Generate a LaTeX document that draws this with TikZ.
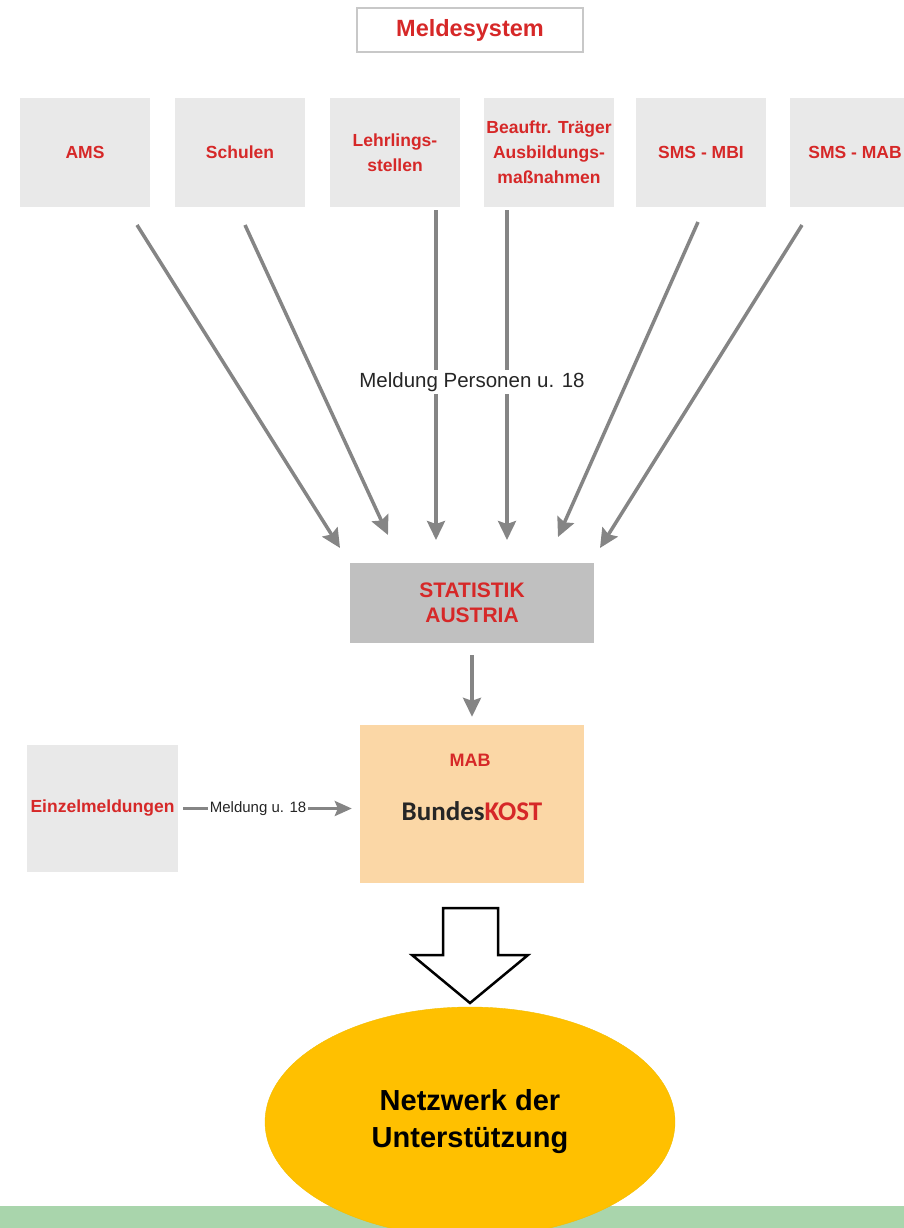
\documentclass[tikz,border=0pt]{standalone}
\usepackage{fontspec}
\setmainfont{Liberation Sans}
\newfontfamily\calibrifont{Carlito}
\usetikzlibrary{arrows.meta,shapes.geometric}

\definecolor{meldrot}{RGB}{214,40,40}
\definecolor{boxgrau}{RGB}{233,233,233}
\definecolor{statgrau}{RGB}{192,192,192}
\definecolor{randgrau}{RGB}{200,200,200}
\definecolor{pfeilgrau}{RGB}{133,133,133}
\definecolor{mabfarbe}{RGB}{251,215,166}
\definecolor{kostschwarz}{RGB}{38,38,38}
\definecolor{bandgruen}{RGB}{169,213,172}
\definecolor{netzgelb}{RGB}{255,192,0}
\definecolor{netzrand}{RGB}{242,190,0}

\begin{document}
\begin{tikzpicture}[x=1pt,y=-1pt,
		quelle/.style={rectangle,fill=boxgrau,minimum width=#1,minimum height=109pt,inner sep=2pt,text=meldrot,align=center,font=\fontsize{17.5}{25}\selectfont\bfseries},
		quelle/.default=130pt,
		pfeil/.style={draw=pfeilgrau,line width=#1,-{Stealth[length=19pt,width=18pt,inset=3pt]}},
		pfeil/.default=3.5pt,
		beschriftung/.style={fill=white,inner sep=2pt,text=black!85,font=\fontsize{#1}{#1}\selectfont}]
		
		\useasboundingbox (0,0) rectangle (904,1228);
		
		%meldesystem
		\node[draw=randgrau,line width=1.5pt,minimum width=226pt,minimum height=44pt,text=meldrot,font=\fontsize{23.5}{28}\selectfont\bfseries] (melde) at (470,30) {Meldesystem};
		
		%quellen
		\foreach \name/\x/\text in {ams/85/AMS, schulen/240/Schulen, lehr/395/{Lehrlings-\\stellen}, beauftr/549/{Beauftr. Träger\\Ausbildungs-\\maßnahmen}, mbi/701/SMS - MBI, smsmab/855/SMS - MAB}
		\node[quelle] (\name) at (\x,152.5) {\text};
		
		%statistik
		\node[fill=statgrau,minimum width=244pt,minimum height=80pt,text=meldrot,align=center,font=\fontsize{21}{25}\selectfont\bfseries] (statistik) at (472,603) {STATISTIK\\AUSTRIA};
		
		%meldungen an statistik
		\foreach \name/\ax/\ay/\ex/\ey in {ams/137/225/340/548, schulen/245/225/388/535, lehr/436/210/436/540, beauftr/507/210/507/540, mbi/698/222/558/537, smsmab/802/225/600/548}
		{
			\coordinate (\name-aus) at (\ax,\ay);
			\coordinate (\name-ein) at (\ex,\ey);
			\draw[pfeil] (\name-aus) -- (\name-ein);
		}
		
		\node[beschriftung=20.5] (meldungp) at (472,382) {Meldung Personen u. 18};
		
		%bundeskost
		\node[fill=mabfarbe,minimum width=224pt,minimum height=158pt] (mab) at (472,804) {};
		\node[text=meldrot,font=\fontsize{18}{20}\selectfont\bfseries] (mabtitel) at (470,760) {MAB};
		\node[font=\fontsize{27}{30}\selectfont\calibrifont\bfseries] (kost) at (472,811) {\textcolor{kostschwarz}{Bundes}\textcolor{meldrot}{KOST}};
		
		\draw[pfeil,shorten <=12pt,shorten >=8pt] (statistik) -- (mab);
		
		%einzelmeldungen
		\node[quelle=151pt,minimum height=127pt] (einzel) at (102.5,808.5) {Einzelmeldungen};
		\draw[pfeil=3pt,-{Stealth[length=17pt,width=15pt,inset=3pt]},shorten <=5pt,shorten >=8pt] (einzel.east) -- node[pos=0.44,beschriftung=15] (meldungu) {Meldung u. 18} (einzel.east -| mab.west);
		
		%pfeil zum netzwerk
		\draw[line width=2.5pt,fill=white,line join=miter] (443,908) -- (498,908) -- (498,955) -- (528,955) -- (470,1003) -- (412,955) -- (443,955) -- cycle;
		
		%band
		\fill[bandgruen] (0,1206) rectangle (904,1228);
		
		%netzwerk
		\node[ellipse,fill=netzgelb,draw=netzrand,minimum width=410pt,minimum height=230pt,inner sep=0pt,align=center,font=\fontsize{29}{37}\selectfont\bfseries] (netz) at (470,1122) {Netzwerk der\\Unterstützung};
		
	\end{tikzpicture}
\end{document}
